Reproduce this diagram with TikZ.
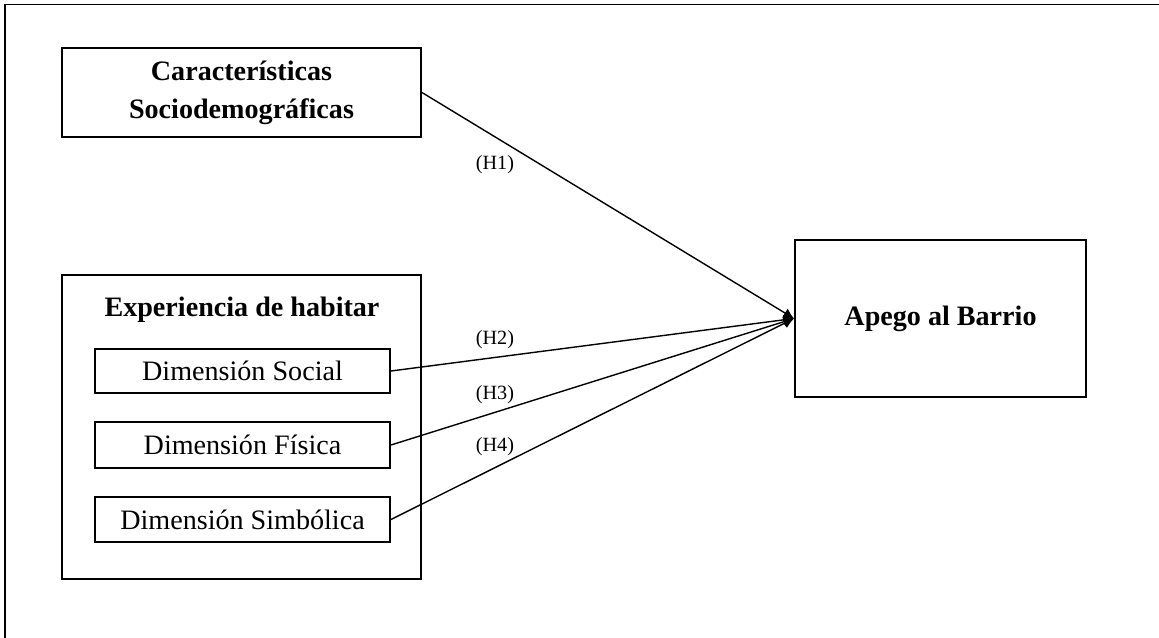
\documentclass[tikz,border=0pt]{standalone}
\usepackage{fontspec}
\setmainfont{Liberation Serif}
\usepackage{tikz}
\usetikzlibrary{arrows.meta}

\begin{document}
\begin{tikzpicture}[
    box/.style={draw, line width=1.1pt, inner sep=0pt, align=center},
    bigtext/.style={font=\fontsize{16}{21.6}\selectfont},
    hyp/.style={font=\fontsize{11.5}{13}\selectfont},
    link/.style={line width=0.8pt, -{Latex[length=6pt,width=6pt]}}
]
    \useasboundingbox (0, 0) rectangle (23.18, -12.76);

    % Outer frame (only top and left edge fall inside the picture)
    \draw[line width=1.1pt] (0.1, -12.76) -- (0.1, -0.09) -- (23.18, -0.09);

    % Sociodemographic block
    \node[box, bigtext, minimum width=7.18cm, minimum height=1.78cm] (socio) at (4.83, -1.85)
        {\textbf{Características}\\\textbf{Sociodemográficas}};

    % Living experience block with its three dimensions
    \node[box, minimum width=7.18cm, minimum height=6.08cm] (exper) at (4.83, -8.54) {};
    \node[bigtext] (experT) at (4.84, -6.2) {\textbf{Experiencia de habitar}};
    \node[box, bigtext, minimum width=5.9cm, minimum height=0.88cm] (social) at (4.85, -7.42) {Dimensión Social};
    \node[box, bigtext, minimum width=5.9cm, minimum height=0.92cm] (fisica) at (4.85, -8.9) {Dimensión Física};
    \node[box, bigtext, minimum width=5.9cm, minimum height=0.9cm] (simbolica) at (4.85, -10.39) {Dimensión Simbólica};

    % Outcome
    \node[box, bigtext, minimum width=5.82cm, minimum height=3.14cm] (apego) at (18.81, -6.37) {\textbf{Apego al Barrio}};

    % Hypotheses
    \draw[link] (socio.east) -- (apego.west);
    \draw[link] (social.east) -- (apego.west);
    \draw[link] (fisica.east) -- (apego.west);
    \draw[link] (simbolica.east) -- (apego.west);

    \node[hyp] (h1) at (9.9, -3.3) {(H1)};
    \node[hyp] (h2) at (9.9, -6.8) {(H2)};
    \node[hyp] (h3) at (9.9, -7.9) {(H3)};
    \node[hyp] (h4) at (9.9, -8.94) {(H4)};
\end{tikzpicture}
\end{document}
